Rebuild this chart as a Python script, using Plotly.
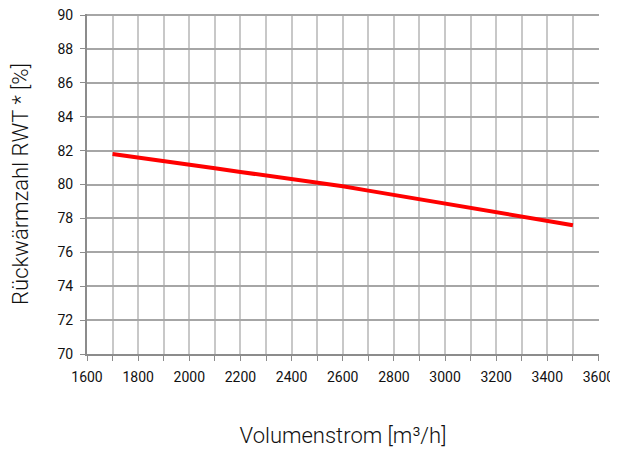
import plotly.graph_objects as go

# Volumenstrom (m3/h) vs. Rückwärmzahl (%)
volumenstrom = [1700, 1800, 1900, 2000, 2100, 2200, 2300, 2400, 2500, 2600,
                2700, 2800, 2900, 3000, 3100, 3200, 3300, 3400, 3500]
rueckwaermzahl = [81.80, 81.60, 81.40, 81.18, 80.96, 80.74, 80.53, 80.32, 80.12, 79.90,
                  79.64, 79.38, 79.12, 78.86, 78.60, 78.34, 78.08, 77.84, 77.60]

x_ticks = list(range(1600, 3601, 200))
y_ticks = list(range(70, 91, 2))

fig = go.Figure()
fig.add_trace(go.Scatter(
    x=volumenstrom, y=rueckwaermzahl, mode="lines",
    line=dict(color="#ff0000", width=4), showlegend=False,
))

# ranges are padded a hair so the grid lines at 3600 and 90 are still drawn
fig.update_xaxes(
    range=[1600, 3602], tickvals=x_ticks, ticks="outside", ticklen=5,
    tickcolor="#8c8c8c", showgrid=True, gridcolor="#c8c8c8", gridwidth=1.5,
    minor=dict(dtick=100, tick0=1600, showgrid=True, gridcolor="#c8c8c8",
               ticks="outside", ticklen=5, tickcolor="#8c8c8c"),
    showline=True, linecolor="#8c8c8c", linewidth=2, zeroline=False,
    automargin=False, ticklabeloverflow="allow", ticklabelstandoff=4,
    tickfont=dict(family="Roboto", size=14, color="#111"),
    title=dict(text="Volumenstrom [m³/h]", standoff=44,
               font=dict(family="Roboto", size=22, color="#111", weight=300)),
)
fig.update_yaxes(
    range=[70, 90.06], tickvals=y_ticks, ticks="outside", ticklen=5,
    tickcolor="#8c8c8c", showgrid=True, gridcolor="#a6a6a6", gridwidth=1.5,
    showline=True, linecolor="#8c8c8c", linewidth=2, zeroline=False,
    automargin=False, ticklabeloverflow="allow", ticklabelstandoff=4,
    tickfont=dict(family="Roboto", size=14, color="#111"),
    title=dict(text="Rückwärmzahl RWT * [%]", standoff=23,
               font=dict(family="Roboto", size=22, color="#111", weight=300)),
)

# page body has an 8px margin, so the figure is a bit smaller than the window
fig.update_layout(
    width=610, height=444,
    margin=dict(l=79, r=19, t=6, b=98),
    plot_bgcolor="white", paper_bgcolor="white",
)

fig.write_html("out.html")
